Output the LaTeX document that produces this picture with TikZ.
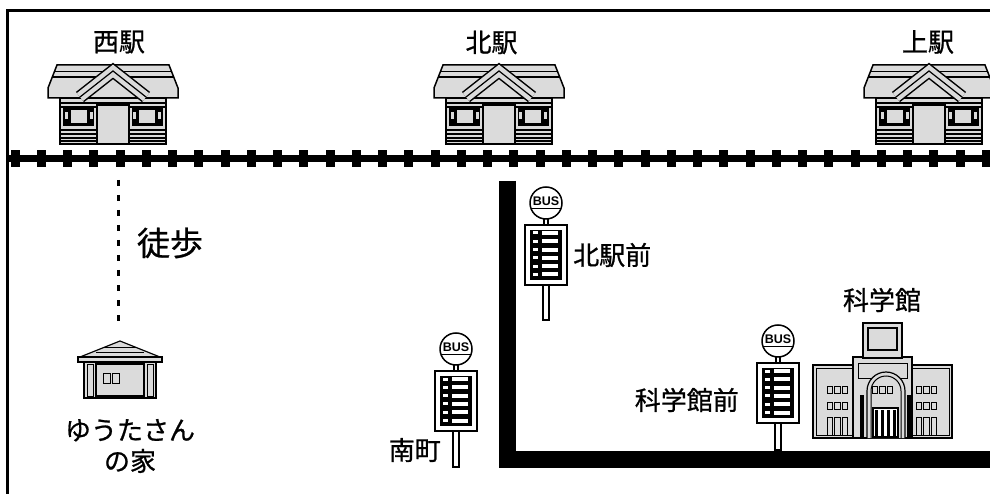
\documentclass[tikz,border=0pt]{standalone}
\usepackage{fontspec}
\newfontfamily\jp[FakeBold=0.8]{Noto Sans CJK JP}
\newfontfamily\busfont{Liberation Sans}
\usepackage{tikz}
\usetikzlibrary{positioning}
\definecolor{iconfill}{gray}{0.86}

\tikzset{
  grayfill/.style={fill=iconfill, draw=black, line width=1.5pt},
  maptext/.style={font=\jp\fontsize{26}{31}\selectfont, inner sep=0pt},
  bigtext/.style={font=\jp\fontsize{33}{36}\selectfont, inner sep=0pt},
  bustext/.style={font=\busfont\bfseries\fontsize{12.5}{12.5}\selectfont, inner sep=0pt}
}

% station building, #1 = centre x
\newcommand{\stationhouse}[1]{%
  \begin{scope}[shift={(#1,0)}]
    % roof
    \draw[grayfill] (-56,65) -- (56,65) -- (65,88) -- (65,98) -- (-65,98) -- (-65,88) -- cycle;
    \draw[line width=1pt] (-58,72) -- (58,72);
    \draw[line width=2pt] (-60,77) -- (60,77);
    % walls
    \draw[grayfill] (-53,98) rectangle (53,144);
    \foreach \y in {103,107,130,134,138,141}
      \draw[line width=1.2pt] (-53,\y) -- (53,\y);
    % windows
    \foreach \s in {-1,1} {
      \fill (\s*19,107) rectangle (\s*50,126);
      \fill[iconfill] (\s*26,110) rectangle (\s*42,123);
      \fill[iconfill] (\s*20,112) rectangle (\s*23,119);
      \fill[iconfill] (\s*45,112) rectangle (\s*48,119);
    }
    % door
    \draw[grayfill] (-16,105) rectangle (16,144);
    % gable
    \draw[line width=13pt] (-33,97) -- (0,71) -- (33,97);
    \draw[line width=10pt, iconfill] (-33,97) -- (0,71) -- (33,97);
    \draw[line width=1.2pt] (-33,97) -- (0,71) -- (33,97);
  \end{scope}}

% bus stop, #1,#2 = top centre of the panel, #3 = pole bottom below it
\newcommand{\busstop}[3]{%
  \begin{scope}[shift={(#1,#2)}]
    % sign
    \draw[line width=1.2pt, fill=white] (-2,-7) rectangle (2,0);
    \draw[line width=1.5pt, fill=white] (0,-22) circle (16pt);
    \draw[line width=0.8pt] (-15,-17) -- (15,-17);
    \node[bustext] at (0,-23.5) {BUS};
    % panel
    \draw[line width=1.5pt, fill=white] (-21,0) rectangle (21,60);
    \fill (-16,5) rectangle (16,55);
    \foreach \r in {0,...,5} {
      \fill[white] (-4,6+\r*8.3) rectangle (12,10+\r*8.3);
      \fill[white] (-13,6.5+\r*8.3) rectangle (-8,9.5+\r*8.3);
    }
    % pole
    \draw[line width=1.2pt, fill=white] (-3,60) rectangle (3,#3);
  \end{scope}}

\begin{document}
\begin{tikzpicture}[x=1pt, y=-1pt]
  \useasboundingbox (0,0) rectangle (990,494);
  \clip (0,0) rectangle (990,494);

  % Frame
  \draw[line width=3pt] (7.5,520) -- (7.5,10.5) -- (1010,10.5);

  % Railway
  \draw[line width=7pt] (9,158.5) -- (1000,158.5);
  \foreach \k in {0,...,37}
    \fill (10.5+26.25*\k,150) rectangle +(9,17);

  % Stations
  \stationhouse{113}
  \stationhouse{499}
  \stationhouse{929}
  \node[maptext] (nishi) at (119,42) {西駅};
  \node[maptext] (kita) at (491.5,42.5) {北駅};
  \node[maptext] (kami) at (928,42) {上駅};

  % Walk to the house
  \coordinate (walkstart) at (118,180);
  \coordinate (walkend) at (118,323);
  \draw[line width=3pt, dash pattern=on 6pt off 9pt] (walkstart) -- (walkend);
  \node[bigtext] (toho) at (170,243) {徒歩};

  % Yuta's house
  \draw[grayfill, line width=1.2pt] (120,341) -- (160,357) -- (80,357) -- cycle;
  \draw[line width=1pt] (104,347.5) -- (136,347.5);
  \draw[line width=1pt] (96,352) -- (144,352);
  \draw[grayfill, line width=1.2pt] (78,357) rectangle (162,362);
  \draw[grayfill, line width=1.2pt] (84,362) rectangle (156,398);
  \draw[line width=1pt] (87,364) rectangle (93,396);
  \draw[line width=1pt] (147,364) rectangle (153,396);
  \draw[line width=1.2pt] (96,364) rectangle (144,396);
  \draw[line width=1pt] (103,373) rectangle (110,383);
  \draw[line width=1pt] (112,373) rectangle (119,383);
  \node[maptext, align=center] (yuta) at (130,446) {ゆうたさん\\の家};

  % Road
  \draw[line width=17pt] (507,181) -- (507,459) -- (1000,459);

  % Bus stops
  \busstop{546}{225}{95}
  \node[maptext, anchor=west] (kitamae) at (573,255) {北駅前};
  \busstop{456}{371}{96}
  \node[maptext, anchor=east] (minami) at (441,450) {南町};
  \busstop{778}{363}{87}
  \node[maptext, anchor=east] (kagakumae) at (739,400) {科学館前};

  % Science museum
  \draw[grayfill] (813,365) rectangle (857,438);
  \draw[line width=1pt] (816,368) rectangle (854,435);
  \draw[grayfill] (908,365) rectangle (952,438);
  \draw[line width=1pt] (911,368) rectangle (949,435);
  \draw[grayfill] (853,357) rectangle (912,438);
  \draw[line width=1pt] (858,363) rectangle (907,378);
  \draw[grayfill] (863,323) rectangle (902,358);
  \draw[line width=1.2pt] (868,328) rectangle (897,350);
  \draw[line width=1.2pt, fill=iconfill] (867,438) -- (867,391) arc (180:0:19pt) -- (905,438);
  \draw[line width=1pt] (871,438) -- (871,391) arc (180:0:15pt) -- (901,438);
  \fill (860,395) rectangle (864,437);
  \fill (907,395) rectangle (911,437);
  \draw[line width=1.2pt, fill=white] (873,408) rectangle (898,437);
  \foreach \x in {875,881,887,893}
    \fill (\x,410) rectangle +(3,27);
  \foreach \x in {827,834.5,842,916,923.5,931} {
    \draw[line width=1pt] (\x,386) rectangle +(5.5,7);
    \draw[line width=1pt] (\x,402) rectangle +(5.5,7);
    \draw[line width=1pt] (\x,436) -- (\x,417) -- (\x+5.5,417) -- (\x+5.5,436);
  }
  \foreach \x in {872,879.5,887}
    \draw[line width=1pt] (\x,386) rectangle +(5.5,7);
  \node[maptext] (kagaku) at (882,300) {科学館};
\end{tikzpicture}
\end{document}
